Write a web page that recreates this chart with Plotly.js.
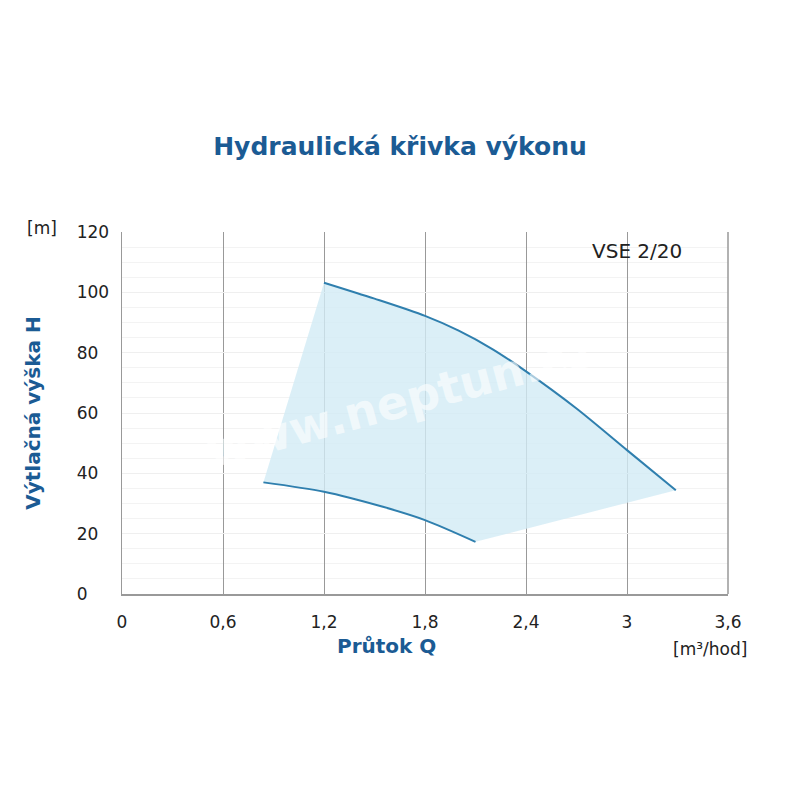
<!DOCTYPE html>
<html><head><meta charset="utf-8">
<script src="https://cdn.plot.ly/plotly-3.0.1.min.js"></script>
<style>body{margin:0;background:#fff}#chart{width:800px;height:800px}</style>
</head><body><div id="chart"></div>
<script>
// Upper curve (max performance)
const upperQ = [1.2, 1.5, 1.8, 2.0, 2.2, 2.4, 2.7, 3.0, 3.29];
const upperH = [103.2, 97.9, 92.2, 87.3, 81.2, 73.8, 61.5, 47.7, 34.4];
// Lower curve (min performance)
const lowerQ = [0.84, 1.2, 1.55, 1.8, 2.1];
const lowerH = [37.0, 33.9, 28.9, 24.5, 17.3];
const xTicks = [0, 0.6, 1.2, 1.8, 2.4, 3, 3.6];
const xTickText = ["0", "0,6", "1,2", "1,8", "2,4", "3", "3,6"];
const yTicks = [0, 20, 40, 60, 80, 100, 120];
const yTickText = ["0\u2007\u2007", "20\u2007", "40\u2007", "60\u2007", "80\u2007", "100", "120"];

const fillQ = upperQ.concat(lowerQ.slice().reverse());
const fillH = upperH.concat(lowerH.slice().reverse());
const lineCol = '#2f7fae';
const blue = '#1b5b94';
const font = '"DejaVu Sans", sans-serif';

const traces = [
  {x: fillQ, y: fillH, type: 'scatter', mode: 'lines', fill: 'toself',
   fillcolor: 'rgba(210,235,245,0.8)', line: {width: 0}, hoverinfo: 'skip'},
  {x: upperQ, y: upperH, type: 'scatter', mode: 'lines', line: {color: lineCol, width: 2, shape: 'spline', smoothing: 0.8}},
  {x: lowerQ, y: lowerH, type: 'scatter', mode: 'lines', line: {color: lineCol, width: 2, shape: 'spline', smoothing: 0.8}}
];

const layout = {
  width: 800, height: 800, showlegend: false,
  paper_bgcolor: '#fff', plot_bgcolor: '#fff',
  margin: {l: 121.5, r: 71.7, t: 231.7, b: 206},
  title: {text: 'Hydraulická křivka výkonu', x: 0.5, xanchor: 'center', y: 0.817, yanchor: 'middle',
          font: {family: font, size: 25, color: blue, weight: 'bold'}},
  font: {family: font, size: 16, color: '#222'},
  xaxis: {range: [0, 3.6], tickvals: xTicks, ticktext: xTickText, showgrid: true,
          gridcolor: '#999', gridwidth: 1, zeroline: false, showline: true, linecolor: '#999', linewidth: 1.5,
          ticks: '', ticklabelstandoff: 12, tickfont: {size: 17, color: '#222'}, mirror: false},
  yaxis: {range: [0, 120], tickvals: yTicks, ticktext: yTickText, showgrid: true, gridcolor: '#efefef', gridwidth: 1,
          minor: {dtick: 5, showgrid: true, gridcolor: '#f3f3f3', gridwidth: 1},
          zeroline: false, showline: true, linecolor: '#999', linewidth: 1.5,
          ticks: '', ticklabelstandoff: 8, tickfont: {size: 17, color: '#222'},
          title: {text: 'Výtlačná výška H', standoff: 30, font: {family: font, size: 20, color: blue, weight: 'bold'}}},
  shapes: [
    {type: 'line', xref: 'paper', yref: 'paper', x0: 1, x1: 1, y0: 0, y1: 1, line: {color: '#999', width: 1.5}}
  ],
  annotations: [
    {text: 'Průtok Q', xref: 'paper', yref: 'paper', x: 0.437, y: -0.145, xanchor: 'center', yanchor: 'middle', showarrow: false,
     font: {family: font, size: 20, color: blue, weight: 'bold'}},
    {text: '[m]', xref: 'paper', yref: 'paper', x: -0.132, y: 1.01, xanchor: 'center', yanchor: 'middle', showarrow: false, font: {size: 17, color: '#222'}},
    {text: '[m³/hod]', xref: 'paper', yref: 'paper', x: 1.035, y: -0.152, xanchor: 'right', yanchor: 'middle', showarrow: false, font: {size: 17, color: '#222'}},
    {text: 'VSE 2/20', xref: 'x', yref: 'y', x: 3.06, y: 113.8, xanchor: 'center', yanchor: 'middle', showarrow: false, font: {size: 20, color: '#222'}},
    {text: 'www.neptun.cz', xref: 'x', yref: 'y', x: 1.65, y: 64, xanchor: 'center', yanchor: 'middle', showarrow: false, textangle: -15,
     font: {size: 46, color: 'rgba(255,255,255,0.6)', weight: 'bold'}}
  ]
};
Plotly.newPlot('chart', traces, layout, {displayModeBar: false, staticPlot: true});
</script></body></html>
